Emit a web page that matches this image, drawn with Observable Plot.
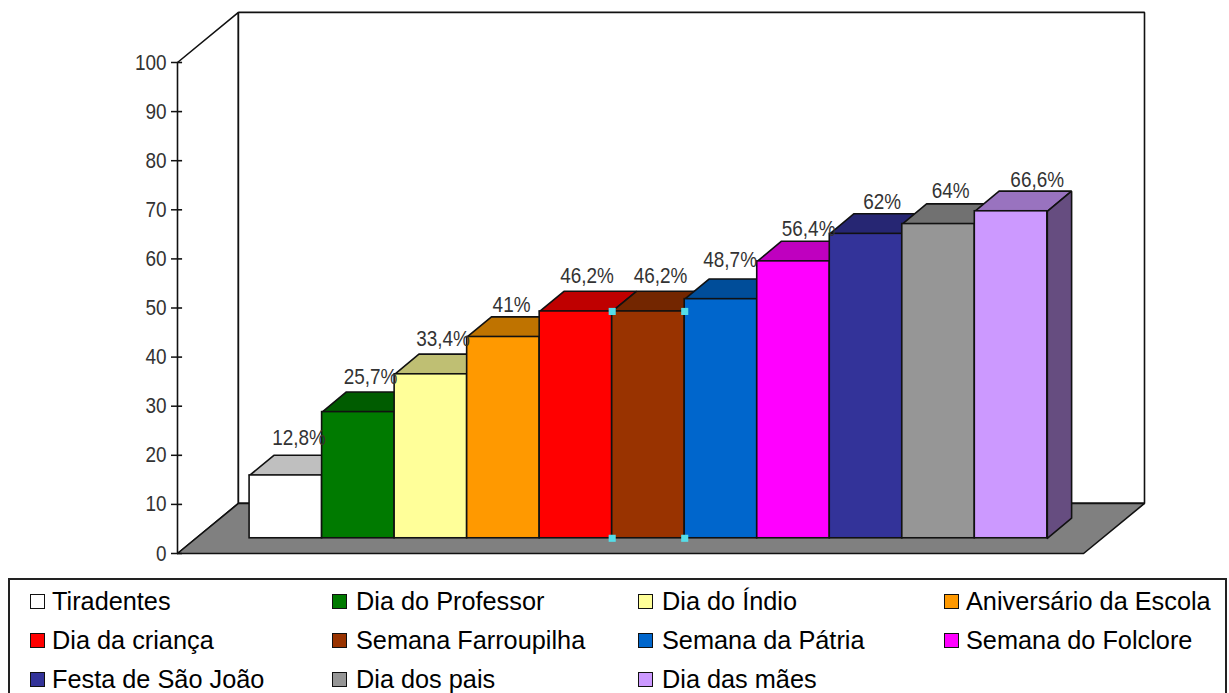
<!DOCTYPE html>
<html>
<head>
<meta charset="utf-8">
<script src="https://cdn.jsdelivr.net/npm/d3@7"></script>
<script src="https://cdn.jsdelivr.net/npm/@observablehq/plot@0.6"></script>
<style>
html,body{margin:0;padding:0;background:#fff;width:1229px;height:693px;overflow:hidden}
svg{display:block}
#legend{position:absolute;left:8px;top:578px;width:1219px;height:130px;box-sizing:border-box;border:2px solid #222;background:#fff;
display:grid;grid-template-columns:301px 306px 307px auto;grid-auto-rows:39px;padding:2px 0 0 20px;
font-family:"Liberation Sans",Arial,sans-serif;font-size:25.3px;color:#000}
#legend div{display:flex;align-items:center;white-space:nowrap;height:39px}
#legend i{display:block;width:13px;height:13px;border:1.5px solid #111;margin-right:7px;flex:none}
#legend div:nth-child(4n+2) i,#legend div:nth-child(4n+3) i{margin-left:1px;margin-right:9px}
</style>
</head>
<body>
<div id="chart"></div>
<div id="legend"></div>
<script>
const categories = ["Tiradentes","Dia do Professor","Dia do Índio","Aniversário da Escola","Dia da criança","Semana Farroupilha","Semana da Pátria","Semana do Folclore","Festa de São João","Dia dos pais","Dia das mães"];
const values = [12.8,25.7,33.4,41,46.2,46.2,48.7,56.4,62,64,66.6];
const labels = ["12,8%","25,7%","33,4%","41%","46,2%","46,2%","48,7%","56,4%","62%","64%","66,6%"];
const colors = ["#ffffff","#007a00","#ffff99","#ff9900","#ff0000","#993300","#0066cc","#ff00ff","#333399","#969696","#cc99ff"];
const yTicks = [0,10,20,30,40,50,60,70,80,90,100];

// Projection of the 3D box, in scale units (x: one bar = 1, y: axis value)
const xMin = -0.994, xMax = 12.34;
const wallDX = 0.84, wallDY = 10.2, wallTop = 100;
const barBase = 3.1, barDX = 0.335, barDY = 4.1;

const shade = (c, k) => { const r = d3.rgb(c); return d3.rgb(r.r*k, r.g*k, r.b*k).formatHex(); };
const line = {stroke:"#111", strokeWidth:1.6};
const poly = (pts, fill) => Plot.line([...pts, pts[0]].map(([x,y]) => ({x,y})), {x:"x", y:"y", fill, ...line, strokeLinejoin:"miter"});

const floorFrontRight = xMax - wallDX;
const backLeft = xMin + wallDX;

const walls = [
  poly([[xMin,0],[xMin,wallTop],[backLeft,wallTop+wallDY],[backLeft,wallDY]], "#ffffff"),
  poly([[backLeft,wallDY],[backLeft,wallTop+wallDY],[xMax,wallTop+wallDY],[xMax,wallDY]], "#ffffff"),
  poly([[xMin,0],[backLeft,wallDY],[xMax,wallDY],[floorFrontRight,0]], "#808080")
];

const last = categories.length - 1;
const bars = values.flatMap((v, i) => {
  const top = barBase + v;
  const marks = [
    poly([[i,top],[i+barDX,top+barDY],[i+1+barDX,top+barDY],[i+1,top]], shade(colors[i], 0.75))
  ];
  if (i === last) marks.push(poly([[i+1,barBase],[i+1,top],[i+1+barDX,top+barDY],[i+1+barDX,barBase+barDY]], shade(colors[i], 0.5)));
  marks.push(Plot.rect([values[i]], {x1:i, x2:i+1, y1:barBase, y2:top, fill:colors[i], inset:0, ...line}));
  return marks;
});

// Selected series handles (the brown bar)
const sel = categories.indexOf("Semana Farroupilha");
const handles = Plot.dot(
  [[sel,barBase],[sel+1,barBase],[sel,barBase+values[sel]],[sel+1,barBase+values[sel]]],
  {x:d=>d[0], y:d=>d[1], symbol:"square", r:4, fill:"#55dde8", stroke:"none"}
);

// Hand-placed data labels, as in the original chart
const labelDx = [1,0,0,-4,-1,0,-3,3,4,0,14];
const labelDy = [-10,-8,-8,-5,-8,-8,-12,-5,-5,-6,-4];
const labelFont = {fontFamily:'"Liberation Sans",sans-serif', fontSize:22, fill:"#333"};
const dataLabels = labels.map((t, i) => Plot.text([t], {
  x: i + 0.5 + barDX/2, y: barBase + values[i] + barDY, text: d => d,
  textAnchor:"middle", lineAnchor:"bottom", dx:labelDx[i], dy:labelDy[i], ...labelFont
}));

const chart = Plot.plot({
  width:1229, height:575, marginLeft:177, marginRight:85, marginTop:62, marginBottom:22,
  style:{background:"#fff", overflow:"visible"},
  x:{domain:[xMin,xMax], axis:null},
  y:{domain:[0,100], label:null},
  marks:[
    ...walls,
    Plot.axisY({ticks:yTicks, tickSize:6, tickPadding:5, label:null, stroke:"#111", strokeWidth:1.5, ...labelFont, color:"#333"}),
    Plot.ruleY(yTicks, {x1:xMin, x2:xMin+0.07, ...line}),
    ...bars,
    handles,
    ...dataLabels
  ]
});
document.getElementById("chart").append(chart);

// The original's type is condensed: its glyphs are narrower than they are tall
chart.querySelectorAll("text").forEach(t => {
  t.setAttribute("textLength", (t.getComputedTextLength() * 0.86).toFixed(1));
  t.setAttribute("lengthAdjust", "spacingAndGlyphs");
});

const legend = document.getElementById("legend");
categories.forEach((c, i) => {
  const row = document.createElement("div");
  const sw = document.createElement("i");
  sw.style.background = colors[i];
  row.append(sw, document.createTextNode(c));
  legend.append(row);
});
</script>
</body>
</html>
